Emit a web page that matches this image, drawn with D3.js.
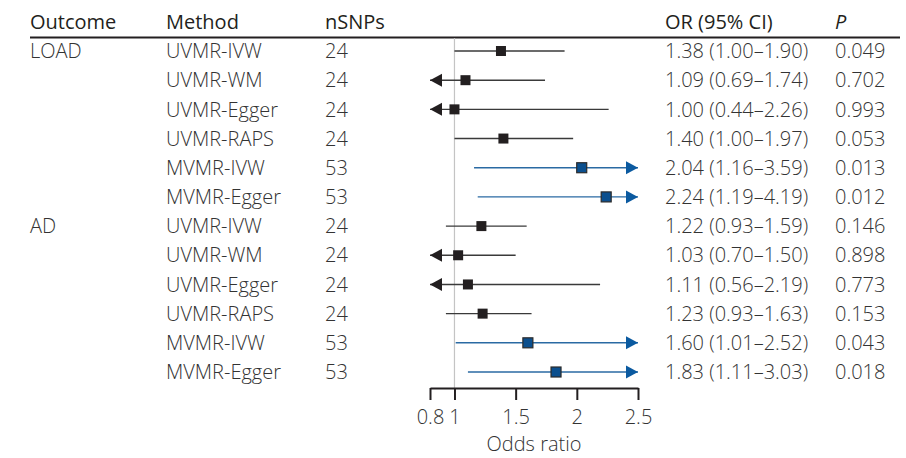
<!DOCTYPE html>
<html>
<head>
  <meta charset="utf-8">
  <script src="https://cdn.jsdelivr.net/npm/d3@7"></script>
  <style>
    body { margin: 0; background: #fff; }
    svg { display: block; font-family: "Open Sans", sans-serif; }
    .hdr { font-size: 20px; fill: #231f20; }
    .cell { font-size: 20px; fill: #333; font-weight: 300; }
    .axis text { font-size: 20px; fill: #333; font-family: "Open Sans", sans-serif; font-weight: 300; }
  </style>
</head>
<body>
<svg id="chart" width="906" height="458"></svg>
<script>
// table data, one entry per row
var outcomes = ["LOAD", "", "", "", "", "", "AD", "", "", "", "", ""];
var methods = ["UVMR-IVW", "UVMR-WM", "UVMR-Egger", "UVMR-RAPS", "MVMR-IVW", "MVMR-Egger",
               "UVMR-IVW", "UVMR-WM", "UVMR-Egger", "UVMR-RAPS", "MVMR-IVW", "MVMR-Egger"];
var nsnps = [24, 24, 24, 24, 53, 53, 24, 24, 24, 24, 53, 53];
var or = [1.38, 1.09, 1.00, 1.40, 2.04, 2.24, 1.22, 1.03, 1.11, 1.23, 1.60, 1.83];
var lower = [1.00, 0.69, 0.44, 1.00, 1.16, 1.19, 0.93, 0.70, 0.56, 0.93, 1.01, 1.11];
var upper = [1.90, 1.74, 2.26, 1.97, 3.59, 4.19, 1.59, 1.50, 2.19, 1.63, 2.52, 3.03];
var pvals = ["0.049", "0.702", "0.993", "0.053", "0.013", "0.012",
             "0.146", "0.898", "0.773", "0.153", "0.043", "0.018"];
var headers = ["Outcome", "Method", "nSNPs", "OR (95% CI)", "P"];
var tickVals = [0.8, 1, 1.5, 2, 2.5];

var svg = d3.select("#chart");

var x = d3.scaleLinear().domain([0.8, 2.5]).range([430, 638]);
var y = d3.scalePoint().domain(d3.range(methods.length)).range([51, 372]);
var colX = [30, 166, 325, 665, 835];

function fmt(v) { return v.toFixed(2); }

var rows = methods.map(function(m, i) {
  return { i: i, outcome: outcomes[i], method: m, n: nsnps[i], or: or[i],
           lo: lower[i], hi: upper[i], p: pvals[i], mv: m.indexOf("MVMR") === 0 };
});

// header
svg.selectAll("text.hdr").data(headers).enter().append("text")
  .attr("class", "hdr")
  .attr("x", function(d, i) { return colX[i]; })
  .attr("y", 29)
  .style("font-style", function(d) { return d === "P" ? "italic" : null; })
  .text(function(d) { return d; });

svg.append("line").attr("x1", 30).attr("x2", 900).attr("y1", 37.5).attr("y2", 37.5)
  .attr("stroke", "#231f20").attr("stroke-width", 2);

// reference line at OR = 1
svg.append("line").attr("x1", x(1)).attr("x2", x(1)).attr("y1", 38).attr("y2", 388)
  .attr("stroke", "#c4c4c4").attr("stroke-width", 1.2);

// text columns
var cols = [
  function(d) { return d.outcome; },
  function(d) { return d.method; },
  function(d) { return d.n; },
  function(d) { return fmt(d.or) + " (" + fmt(d.lo) + "\u2013" + fmt(d.hi) + ")"; },
  function(d) { return d.p; }
];
cols.forEach(function(f, c) {
  svg.append("g").selectAll("text").data(rows).enter().append("text")
    .attr("class", "cell")
    .attr("x", colX[c])
    .attr("y", function(d) { return y(d.i); })
    .attr("dy", "0.36em")
    .text(f);
});

// CI lines
var plot = svg.append("g");
var blueLine = "#2a6aa3", blueFill = "#0b4f8e", blackLine = "#3a3a3a";

plot.selectAll("line.ci").data(rows).enter().append("line")
  .attr("x1", function(d) { return x(Math.max(d.lo, 0.8)); })
  .attr("x2", function(d) { return x(Math.min(d.hi, 2.5)); })
  .attr("y1", function(d) { return y(d.i); })
  .attr("y2", function(d) { return y(d.i); })
  .attr("stroke", function(d) { return d.mv ? blueLine : blackLine; })
  .attr("stroke-width", 1.4);

// arrows for truncated intervals
plot.selectAll("path.left").data(rows.filter(function(d) { return d.lo < 0.8; })).enter().append("path")
  .attr("d", function(d) {
    var tx = x(0.8), ty = y(d.i);
    return "M" + tx + "," + ty + "L" + (tx + 12) + "," + (ty - 6.5) + "L" + (tx + 12) + "," + (ty + 6.5) + "Z";
  })
  .attr("fill", function(d) { return d.mv ? blueFill : "#231f20"; });

plot.selectAll("path.right").data(rows.filter(function(d) { return d.hi > 2.5; })).enter().append("path")
  .attr("d", function(d) {
    var tx = x(2.5), ty = y(d.i);
    return "M" + tx + "," + ty + "L" + (tx - 12) + "," + (ty - 6.5) + "L" + (tx - 12) + "," + (ty + 6.5) + "Z";
  })
  .attr("fill", function(d) { return d.mv ? "#0b5aa0" : "#231f20"; });

// point estimates
var sq = 10;
plot.selectAll("rect").data(rows).enter().append("rect")
  .attr("x", function(d) { return x(d.or) - sq / 2; })
  .attr("y", function(d) { return y(d.i) - sq / 2; })
  .attr("width", sq).attr("height", sq)
  .attr("fill", function(d) { return d.mv ? blueFill : "#231f20"; })
  .attr("stroke", function(d) { return d.mv ? "#2b2b2b" : "none"; })
  .attr("stroke-width", 1.2);

// axis
var axis = svg.append("g").attr("class", "axis")
  .attr("transform", "translate(0,388)")
  .call(d3.axisBottom(x).tickValues(tickVals).tickSize(12).tickSizeOuter(0).tickPadding(10)
    .tickFormat(function(d) { return String(d); }));
axis.select(".domain").attr("stroke", "#231f20").attr("stroke-width", 2);
axis.selectAll(".tick line").attr("stroke", "#231f20").attr("stroke-width", 2);

svg.append("text").attr("class", "cell")
  .attr("x", (x.range()[0] + x.range()[1]) / 2).attr("y", 451)
  .attr("text-anchor", "middle")
  .text("Odds ratio");
</script>
</body>
</html>
